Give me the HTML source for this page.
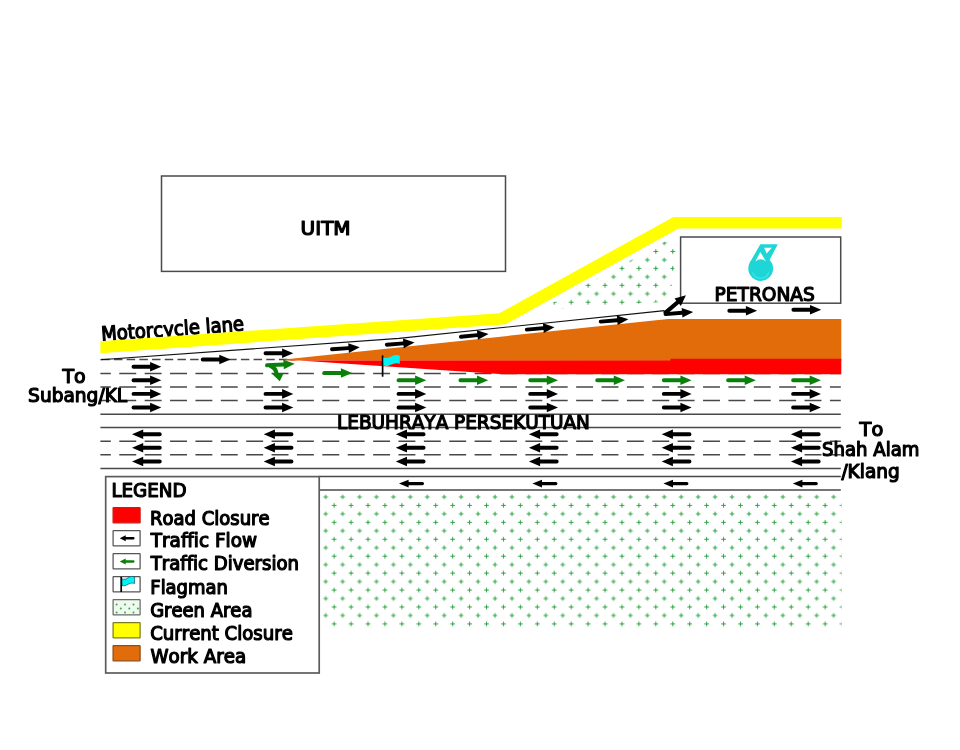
<!DOCTYPE html>
<html lang="en"><head><meta charset="utf-8"><title>Traffic Management Plan</title>
<style>html,body{margin:0;padding:0;background:#fff}body{width:960px;height:750px;overflow:hidden}svg{display:block}text{font-family:"DejaVu Sans Condensed","Liberation Sans",sans-serif;font-size:20.1px;fill:#000;stroke:#000;stroke-width:1.2px;stroke-linejoin:round;font-variant-ligatures:none;font-kerning:none}.ln{stroke:#484848;stroke-width:1.5;fill:none}.bx{fill:#fff;stroke:#4a4a4a;stroke-width:1.5}.g{fill:#0a800a}.k{fill:#000}</style></head><body>
<svg width="960" height="750" viewBox="0 0 960 750">
<defs>
<pattern id="hatch" width="16.930" height="16.930" patternUnits="userSpaceOnUse"><path d="M1.73 6.03h4.60M4.03 3.73v4.60M10.19 14.50h4.60M12.49 12.20v4.60M10.19 -2.43h4.60M12.49 -4.73v4.60M-6.74 14.50h4.60M-4.44 12.20v4.60M-6.74 -2.43h4.60M-4.44 -4.73v4.60" stroke="#2da344" stroke-width="1.05" fill="none"/></pattern>
<path id="ar" d="M1.5 -1.95H18.1V-4.8L29.3 0L18.1 4.8V1.95H1.5A1.95 1.95 0 0 1 1.5 -1.95Z"/>
<path id="as" d="M1.4 -1.65H15.2V-3.95L24.8 0L15.2 3.95V1.65H1.4A1.65 1.65 0 0 1 1.4 -1.65Z"/>
<path id="al" d="M.8 -1.25H8.4V-3L14.4 0L8.4 3V1.25H.8A1.25 1.25 0 0 1 .8 -1.25Z"/>
</defs>
<rect width="960" height="750" fill="#fff"/>
<rect x="319.3" y="491.6" width="522.2" height="136" fill="url(#hatch)"/>
<polygon points="546,306.5 676.5,235.3 678.5,238.5 669.5,301.5 549,309.8" fill="url(#hatch)"/>
<rect class="bx" x="161.5" y="176" width="344" height="95.4"/>
<rect class="bx" x="680.6" y="237" width="160.1" height="66.2"/>
<path class="ln" d="M100.4 373.5H840.8" stroke-dasharray="16.92 8.46" stroke-dashoffset="6.48"/>
<path class="ln" d="M100.4 387.0H840.8" stroke-dasharray="16.92 8.46" stroke-dashoffset="6.48"/>
<path class="ln" d="M100.4 400.6H840.8" stroke-dasharray="16.92 8.46" stroke-dashoffset="6.48"/>
<path class="ln" d="M100.4 441.3H840.8" stroke-dasharray="16.92 8.46" stroke-dashoffset="6.48"/>
<path class="ln" d="M100.4 454.7H840.8" stroke-dasharray="16.92 8.46" stroke-dashoffset="6.48"/>
<path class="ln" d="M100.4 359.6H290" stroke-dasharray="8.46 4.23" stroke-dashoffset="-0.9"/>
<path class="ln" d="M100.4 414.2H840.8"/>
<path class="ln" d="M100.4 427.4H840.8"/>
<path class="ln" d="M100.4 468.4H840.8"/>
<path class="ln" d="M319.3 476.6H840.8"/>
<path class="ln" d="M319.3 489.9H840.8"/>
<path d="M100.4 359.7L399 338.4L664.5 310.6" stroke="#111" stroke-width="1.1" fill="none"/>
<polygon points="284,359.6 668,318.9 841.3,318.9 841.3,361 284,360.6" fill="#e36c0a"/>
<polygon points="284,359.6 292,360.5 670.5,360.5 670.5,358.8 841.3,358.8 841.3,374.3 503,374.3" fill="#ff0000"/>
<use href="#ar" class="k" transform="translate(132.0 366.8)"/>
<use href="#ar" class="k" transform="translate(132.0 380.3)"/>
<use href="#ar" class="k" transform="translate(132.0 393.9)"/>
<use href="#ar" class="k" transform="translate(132.0 407.5)"/>
<use href="#ar" class="k" transform="translate(201.2 359.5)"/>
<use href="#ar" class="k" transform="translate(264.0 353.3)"/>
<use href="#ar" class="k" transform="translate(264.0 393.9)"/>
<use href="#ar" class="k" transform="translate(264.0 407.5)"/>
<use href="#ar" class="k" transform="translate(397.0 393.9)"/>
<use href="#ar" class="k" transform="translate(397.0 407.5)"/>
<use href="#ar" class="k" transform="translate(528.7 393.9)"/>
<use href="#ar" class="k" transform="translate(528.7 407.5)"/>
<use href="#ar" class="k" transform="translate(662.3 393.9)"/>
<use href="#ar" class="k" transform="translate(662.3 407.5)"/>
<use href="#ar" class="k" transform="translate(791.6 393.9)"/>
<use href="#ar" class="k" transform="translate(791.6 407.5)"/>
<use href="#ar" class="k" transform="translate(330.5 349.4) rotate(-4.0)"/>
<use href="#ar" class="k" transform="translate(385.3 344.8) rotate(-4.5)"/>
<use href="#ar" class="k" transform="translate(459.4 336.9) rotate(-5.8)"/>
<use href="#ar" class="k" transform="translate(525.3 329.7) rotate(-5.0)"/>
<use href="#ar" class="k" transform="translate(599.2 321.8) rotate(-5.1)"/>
<use href="#ar" class="k" transform="translate(727.8 310.8)"/>
<use href="#ar" class="k" transform="translate(791.9 309.8)"/>
<use href="#ar" class="g" transform="translate(322.8 373.0)"/>
<use href="#ar" class="g" transform="translate(397.0 380.3)"/>
<use href="#ar" class="g" transform="translate(458.9 380.3)"/>
<use href="#ar" class="g" transform="translate(528.7 380.3)"/>
<use href="#ar" class="g" transform="translate(595.7 380.3)"/>
<use href="#ar" class="g" transform="translate(662.3 380.3)"/>
<use href="#ar" class="g" transform="translate(726.6 380.3)"/>
<use href="#ar" class="g" transform="translate(791.6 380.3)"/>
<use href="#ar" class="k" transform="translate(161.3 434.3) scale(-1 1)"/>
<use href="#ar" class="k" transform="translate(161.3 447.8) scale(-1 1)"/>
<use href="#ar" class="k" transform="translate(161.3 461.5) scale(-1 1)"/>
<use href="#ar" class="k" transform="translate(293.0 434.3) scale(-1 1)"/>
<use href="#ar" class="k" transform="translate(293.0 447.8) scale(-1 1)"/>
<use href="#ar" class="k" transform="translate(293.0 461.5) scale(-1 1)"/>
<use href="#ar" class="k" transform="translate(425.1 434.3) scale(-1 1)"/>
<use href="#ar" class="k" transform="translate(425.1 447.8) scale(-1 1)"/>
<use href="#ar" class="k" transform="translate(425.1 461.5) scale(-1 1)"/>
<use href="#ar" class="k" transform="translate(558.2 434.3) scale(-1 1)"/>
<use href="#ar" class="k" transform="translate(558.2 447.8) scale(-1 1)"/>
<use href="#ar" class="k" transform="translate(558.2 461.5) scale(-1 1)"/>
<use href="#ar" class="k" transform="translate(691.0 434.3) scale(-1 1)"/>
<use href="#ar" class="k" transform="translate(691.0 447.8) scale(-1 1)"/>
<use href="#ar" class="k" transform="translate(691.0 461.5) scale(-1 1)"/>
<use href="#ar" class="k" transform="translate(820.2 434.3) scale(-1 1)"/>
<use href="#ar" class="k" transform="translate(820.2 447.8) scale(-1 1)"/>
<use href="#ar" class="k" transform="translate(820.2 461.5) scale(-1 1)"/>
<use href="#as" class="k" transform="translate(423.8 483.6) scale(-1 1)"/>
<use href="#as" class="k" transform="translate(557.2 483.6) scale(-1 1)"/>
<use href="#as" class="k" transform="translate(688.2 483.6) scale(-1 1)"/>
<use href="#as" class="k" transform="translate(817.6 483.6) scale(-1 1)"/>
<g class="k"><use href="#ar" transform="translate(664 314.2) rotate(-4.5)"/><path d="M0 -2.1H17.5V-4.85L28.3 0L17.5 4.85V2.1H0Z" transform="translate(664.4 313.6) rotate(-40.5)"/></g>
<g class="g"><use href="#ar" transform="translate(265.5 365.4) rotate(-3)"/><path d="M271.5 363.8C276 366 278 369.3 278.6 373.4L283.2 374.3L279.7 381.2L271.7 373.4L274.5 373.6C274 370.8 272.4 369 269 367.5Z"/></g>
<path d="M382.6 355.4V376.7" stroke="#000" stroke-width="1.7" fill="none"/><path d="M383.40 357.40c3.28 1.20 5.74 0.20 8.20 -1.20s5.74 -1.60 8.20 -0.60v8.20c-2.46 -1.00 -4.92 -0.60 -8.20 0.60s-4.92 2.20 -8.20 1.20Z" fill="#00f4f4"/>
<g fill="#1fd6d6"><circle cx="760.7" cy="268.5" r="12.4"/><path d="M760.3 244.2H777.8L768.5 262L749.6 263Z"/></g><path d="M764.2 247.8H771.8L766.6 253.6Z" fill="#fff"/><path d="M760.3 252L766 261.4Q760.7 257 755.3 261.4Z" fill="#fff"/><path d="M752.6 272.5A8.6 8.6 0 0 0 768.8 272.5" stroke="#3fe6e6" stroke-width="1.2" fill="none"/>
<text x="300.6" y="234.8" text-anchor="start" textLength="50.0" lengthAdjust="spacingAndGlyphs">UITM</text>
<text x="714.6" y="300.5" text-anchor="start" textLength="100.3" lengthAdjust="spacingAndGlyphs">PETRONAS</text>
<text x="101.8" y="341.0" text-anchor="start" transform="rotate(-4.2 101.8 341)" textLength="143.0" lengthAdjust="spacingAndGlyphs">Motorcycle lane</text>
<polygon points="100.4,341.3 499.3,313.2 673.4,217 841.8,217 841.8,228.4 678.5,228.4 505.8,324.2 100.4,353.3" fill="#ffff00"/>
<text x="62.4" y="382.8" text-anchor="start" textLength="23.2" lengthAdjust="spacingAndGlyphs">To</text>
<text x="28.1" y="402.0" text-anchor="start" textLength="99.1" lengthAdjust="spacingAndGlyphs">Subang/KL</text>
<text x="337.0" y="428.5" text-anchor="start" textLength="252.8" lengthAdjust="spacingAndGlyphs">LEBUHRAYA PERSEKUTUAN</text>
<text x="859.6" y="435.8" text-anchor="start" textLength="23.6" lengthAdjust="spacingAndGlyphs">To</text>
<text x="822.0" y="455.8" text-anchor="start" textLength="97.4" lengthAdjust="spacingAndGlyphs">Shah Alam</text>
<text x="841.4" y="477.5" text-anchor="start" textLength="58.3" lengthAdjust="spacingAndGlyphs">/Klang</text>
<rect class="bx" x="105.7" y="476.6" width="213.5" height="196.4" style="stroke:#5c5c5c;stroke-width:1.7"/>
<text x="111.4" y="496.8" text-anchor="start" textLength="75.2" lengthAdjust="spacingAndGlyphs">LEGEND</text>
<text x="150.0" y="525.0" text-anchor="start" textLength="119.6" lengthAdjust="spacingAndGlyphs">Road Closure</text>
<text x="150.8" y="547.4" text-anchor="start" textLength="106.2" lengthAdjust="spacingAndGlyphs">Traffic Flow</text>
<text x="150.8" y="570.0" text-anchor="start" textLength="148.2" lengthAdjust="spacingAndGlyphs">Traffic Diversion</text>
<text x="150.3" y="593.6" text-anchor="start" textLength="77.6" lengthAdjust="spacingAndGlyphs">Flagman</text>
<text x="150.2" y="616.5" text-anchor="start" textLength="102.2" lengthAdjust="spacingAndGlyphs">Green Area</text>
<text x="150.2" y="640.0" text-anchor="start" textLength="142.6" lengthAdjust="spacingAndGlyphs">Current Closure</text>
<text x="150.5" y="663.0" text-anchor="start" textLength="95.6" lengthAdjust="spacingAndGlyphs">Work Area</text>
<rect x="113.1" y="507.5" width="27" height="15.3" rx=".4" fill="#ff0000" stroke="#cc1a14" stroke-width="1.25"/>
<rect x="113.1" y="530.5" width="27" height="15.3" rx=".4" fill="#fff" stroke="#555" stroke-width="1.25"/>
<use href="#al" class="k" transform="translate(134.1 538.2) scale(-1 1)"/>
<rect x="113.1" y="553.5" width="27" height="15.3" rx=".4" fill="#fff" stroke="#555" stroke-width="1.25"/>
<use href="#al" class="g" transform="translate(134.1 561.4) scale(-1 1)"/>
<rect x="113.1" y="576.5" width="27" height="15.3" rx=".4" fill="#fff" stroke="#555" stroke-width="1.25"/>
<path d="M121.2 576.8V592.0" stroke="#000" stroke-width="1.7" fill="none"/><path d="M122.00 578.80c2.52 1.20 4.41 0.20 6.30 -1.20s4.41 -1.60 6.30 -0.60v6.60c-1.89 -1.00 -3.78 -0.60 -6.30 0.60s-3.78 2.20 -6.30 1.20Z" fill="#00f4f4" stroke="#134" stroke-width=".6"/>
<rect x="113.1" y="599.5" width="27" height="15.3" rx=".4" fill="#eefaee" stroke="#6a6a6a" stroke-width="1.25"/>
<g fill="#4a9e5c"><circle cx="116.6" cy="604.5" r="1"/><circle cx="125.0" cy="604.5" r="1"/><circle cx="133.5" cy="604.5" r="1"/><circle cx="120.8" cy="608.5" r="1"/><circle cx="129.3" cy="608.5" r="1"/><circle cx="137.9" cy="608.5" r="1"/><circle cx="116.6" cy="612.6" r="1"/><circle cx="125.0" cy="612.6" r="1"/><circle cx="133.5" cy="612.6" r="1"/></g>
<rect x="113.1" y="622.5" width="27" height="15.3" rx=".4" fill="#ffff00" stroke="#7d7d20" stroke-width="1.25"/>
<rect x="113.1" y="645.5" width="27" height="15.3" rx=".4" fill="#e36c0a" stroke="#8f4c14" stroke-width="1.25"/>
</svg></body></html>
